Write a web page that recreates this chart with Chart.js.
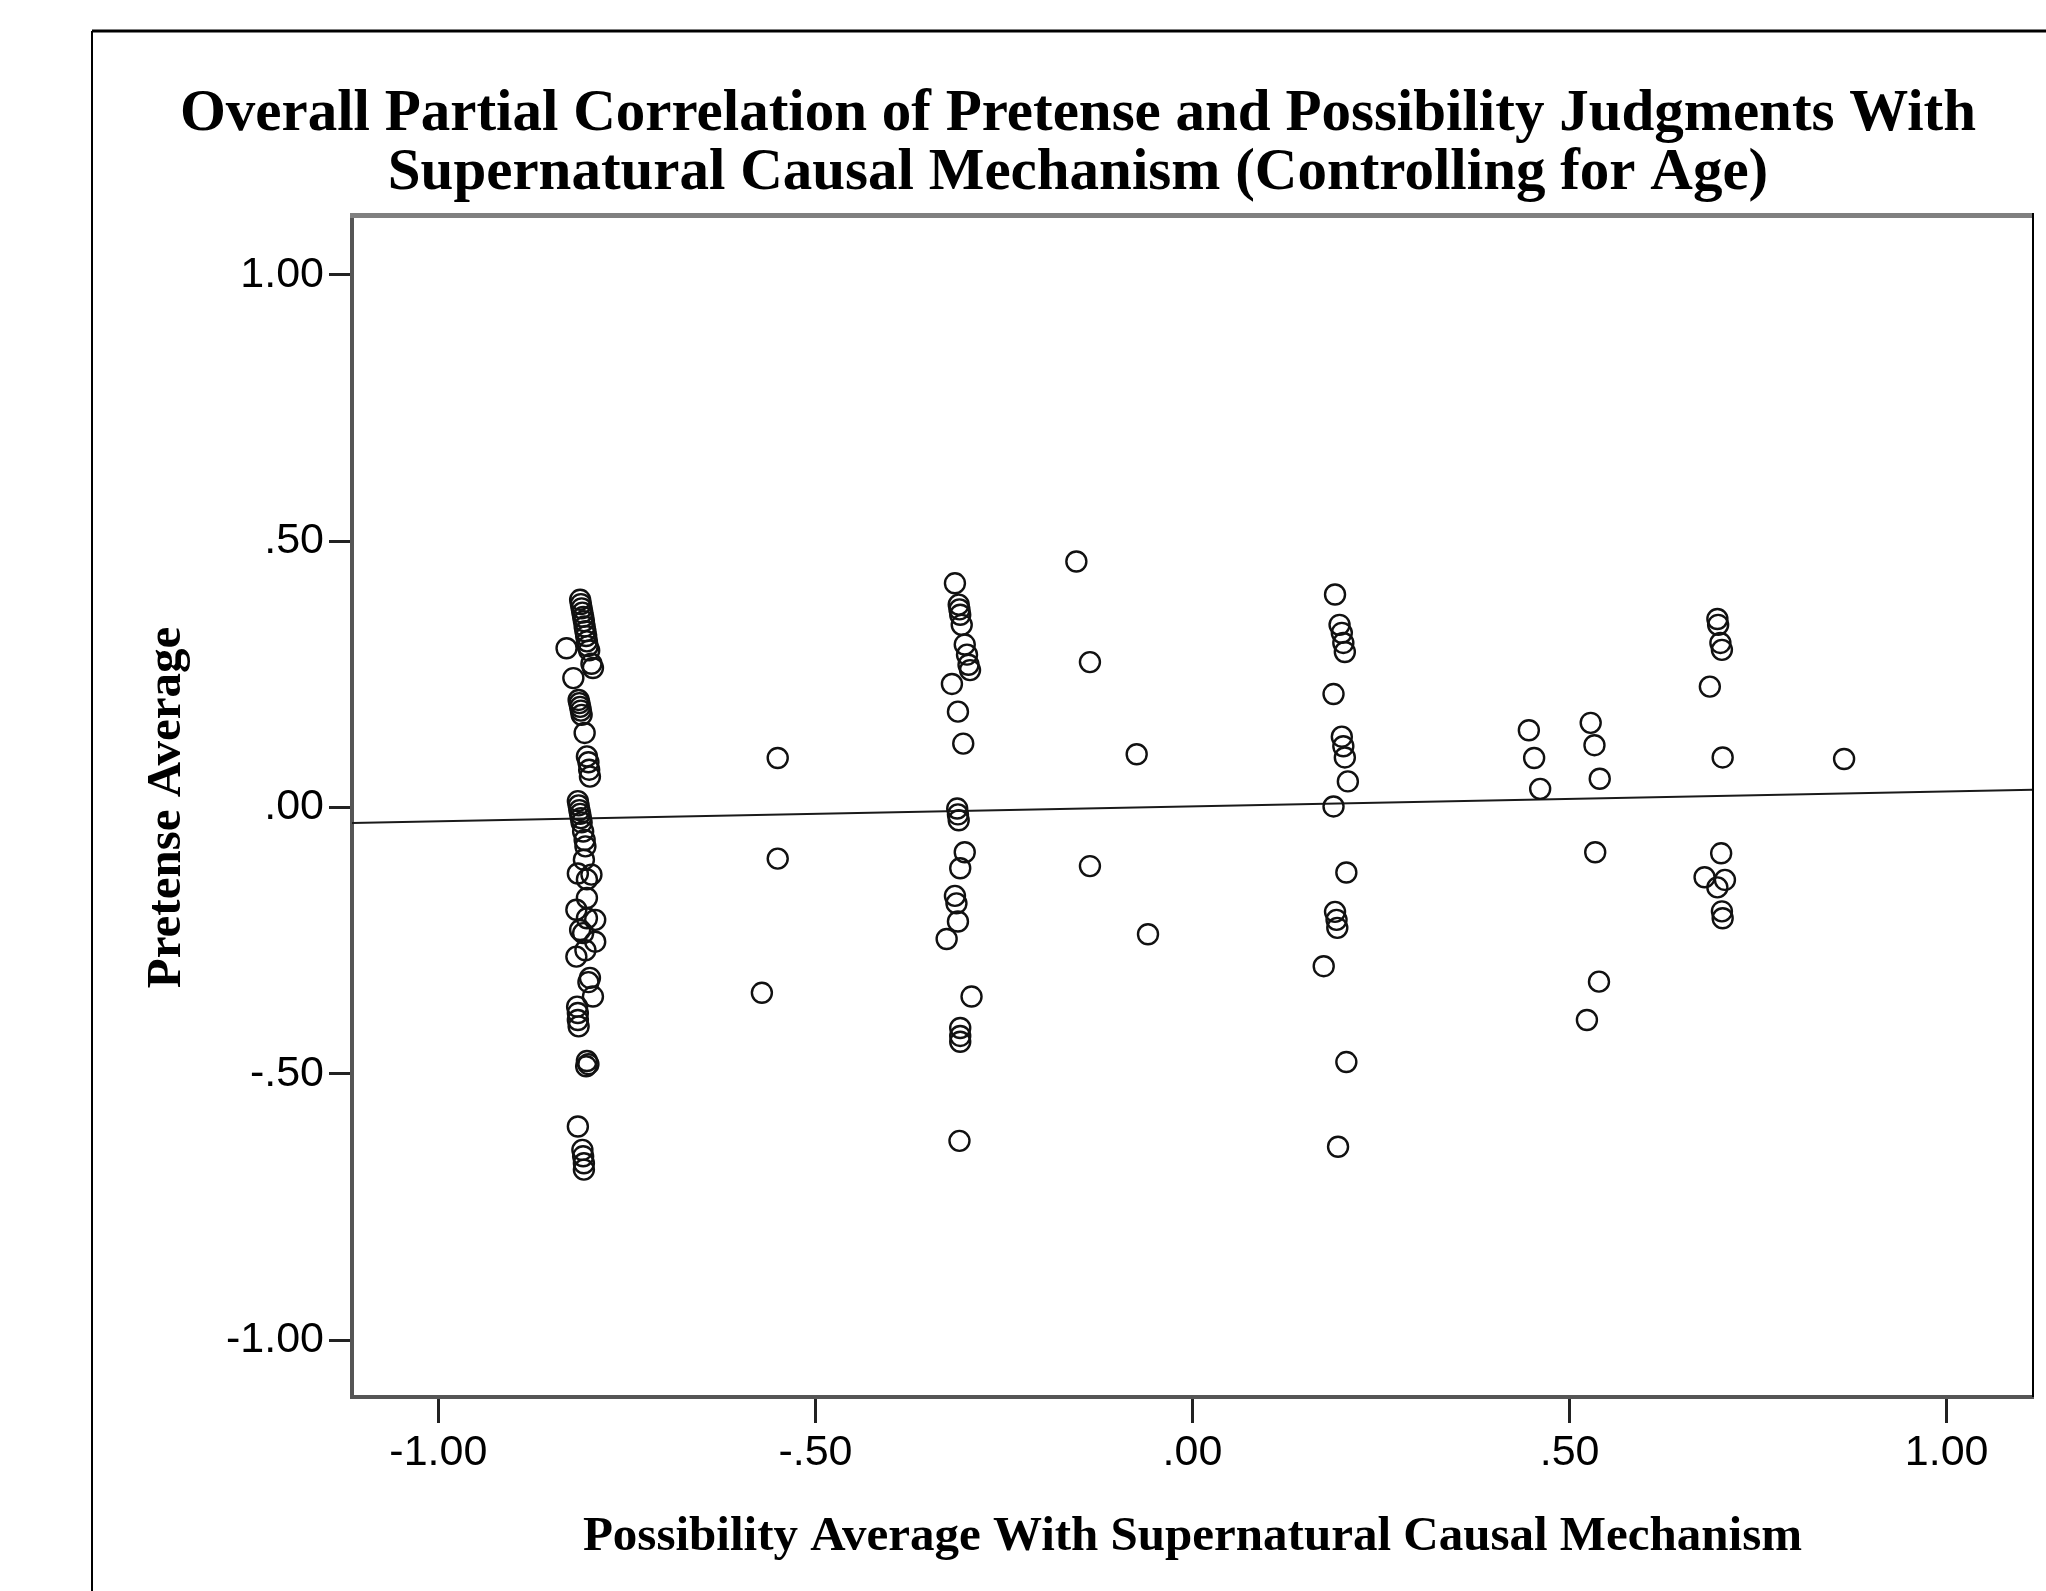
<!DOCTYPE html>
<html>
<head>
<meta charset="utf-8">
<script src="https://cdn.jsdelivr.net/npm/chart.js@4.4.1/dist/chart.umd.min.js"></script>
<style>
  body { margin: 0; background: #fff; }
  #wrap { width: 2046px; height: 1591px; }
</style>
</head>
<body>
<div id="wrap"><canvas id="partialChart" width="2046" height="1591"></canvas></div>
<script>
// residuals (controlling for age)
// x = possibility average w/ supernatural causal mechanism, y = pretense average
var possibilityAvg = [
  // group near -.80
  -0.812,-0.811,-0.810,-0.809,-0.808,-0.807,-0.806,-0.805,-0.804,-0.803,-0.802,-0.800,
  -0.830,-0.795,-0.797,-0.821,-0.814,-0.813,-0.812,-0.811,-0.810,-0.806,-0.803,-0.801,
  -0.800,-0.799,-0.815,-0.814,-0.813,-0.812,-0.811,-0.810,-0.808,-0.806,-0.805,-0.807,
  -0.815,-0.797,-0.803,-0.803,-0.817,-0.803,-0.792,-0.812,-0.808,-0.792,-0.805,-0.817,
  -0.799,-0.801,-0.795,-0.816,-0.815,-0.815,-0.814,-0.803,-0.801,-0.804,-0.815,-0.809,
  -0.808,-0.807,-0.807,
  // group near -.30
  -0.315,-0.310,-0.309,-0.308,-0.306,-0.302,-0.299,-0.297,-0.295,-0.319,-0.311,-0.304,
  -0.312,-0.311,-0.310,-0.302,-0.308,-0.315,-0.313,-0.311,-0.326,-0.293,-0.308,-0.308,
  -0.308,-0.309,
  // loose ones
  -0.550,-0.550,-0.571,-0.154,-0.136,-0.136,-0.074,-0.059,
  // group near .20
  0.189,0.195,0.198,0.200,0.202,0.187,0.198,0.200,0.202,0.206,0.187,0.204,
  0.189,0.191,0.192,0.174,0.204,0.193,
  // group near .50
  0.446,0.453,0.461,0.528,0.533,0.540,0.534,0.539,0.523,
  // group near .70
  0.696,0.697,0.700,0.702,0.686,0.703,0.701,0.679,0.706,0.696,0.702,0.703,0.864
];
var pretenseAvg = [
  0.390,0.382,0.374,0.366,0.358,0.350,0.340,0.331,0.322,0.312,0.303,0.295,
  0.299,0.262,0.270,0.243,0.202,0.196,0.189,0.182,0.174,0.140,0.096,0.085,
  0.071,0.058,0.012,0.004,-0.005,-0.012,-0.020,-0.028,-0.045,-0.061,-0.073,-0.098,
  -0.124,-0.126,-0.135,-0.170,-0.192,-0.208,-0.211,-0.230,-0.236,-0.252,-0.268,-0.280,
  -0.320,-0.328,-0.355,-0.374,-0.386,-0.399,-0.411,-0.476,-0.482,-0.486,-0.599,-0.643,
  -0.655,-0.668,-0.680,

  0.421,0.381,0.372,0.362,0.343,0.306,0.287,0.268,0.258,0.232,0.180,0.120,
  -0.002,-0.013,-0.024,-0.084,-0.114,-0.166,-0.180,-0.214,-0.247,-0.355,-0.414,-0.429,
  -0.440,-0.626,

  0.093,-0.096,-0.348,0.462,0.273,-0.110,0.100,-0.238,

  0.400,0.343,0.328,0.309,0.292,0.213,0.133,0.115,0.094,0.049,0.002,-0.122,
  -0.196,-0.211,-0.226,-0.298,-0.478,-0.637,

  0.145,0.093,0.035,0.159,0.117,0.054,-0.084,-0.327,-0.399,

  0.354,0.343,0.309,0.296,0.227,0.094,-0.086,-0.131,-0.136,-0.150,-0.195,-0.208,0.091
];

// fit line
var fitIntercept = 0.002;
var fitSlope = 0.028;

var tickValues = [-1, -0.5, 0, 0.5, 1];
var xTickLabels = ["-1.00", "-.50", ".00", ".50", "1.00"];
var yTickLabels = ["-1.00", "-.50", ".00", ".50", "1.00"];

var xMin = -1.1145, xMax = 1.1145;
var yMin = -1.107, yMax = 1.107;

var titleLines = [
  "Overall Partial Correlation of Pretense and Possibility Judgments With",
  "Supernatural Causal Mechanism (Controlling for Age)"
];

var points = [];
for (var i = 0; i < possibilityAvg.length; i++) {
  points.push({ x: possibilityAvg[i], y: pretenseAvg[i] });
}
var fitPoints = [
  { x: xMin, y: fitIntercept + fitSlope * xMin },
  { x: xMax, y: fitIntercept + fitSlope * xMax }
];

var framePlugin = {
  id: 'frame',
  beforeDraw: function(chart) {
    var ctx = chart.ctx;
    ctx.save();
    ctx.fillStyle = '#fff';
    ctx.fillRect(0, 0, chart.width, chart.height);
    ctx.strokeStyle = '#000';
    ctx.lineWidth = 3;
    ctx.beginPath();
    ctx.moveTo(92, 31);
    ctx.lineTo(chart.width, 31);
    ctx.stroke();
    ctx.lineWidth = 2;
    ctx.beginPath();
    ctx.moveTo(92, 31);
    ctx.lineTo(92, chart.height);
    ctx.stroke();
    ctx.restore();
  },
  afterDraw: function(chart) {
    var a = chart.chartArea;
    var ctx = chart.ctx;
    ctx.save();
    ctx.strokeStyle = '#808080';
    ctx.lineWidth = 5;
    ctx.beginPath();
    ctx.moveTo(a.left - 2, a.top - 2.5);
    ctx.lineTo(a.right + 1, a.top - 2.5);
    ctx.stroke();
    ctx.strokeStyle = '#000';
    ctx.lineWidth = 2;
    ctx.beginPath();
    ctx.moveTo(a.right, a.top - 5);
    ctx.lineTo(a.right, a.bottom);
    ctx.stroke();
    ctx.restore();
  }
};

var tickFont = { family: "'Liberation Sans', Arial, sans-serif", size: 43 };
var axisTitleFont = { family: "'Liberation Serif', 'Times New Roman', serif", size: 49, weight: 'bold', lineHeight: 1.2 };

var chart = new Chart(document.getElementById('partialChart'), {
  type: 'scatter',
  data: {
    datasets: [{
      label: 'Pretense Average',
      data: points,
      pointStyle: 'circle',
      pointRadius: 10,
      pointBorderWidth: 2.4,
      pointBorderColor: '#111',
      pointBackgroundColor: 'rgba(0,0,0,0)',
      showLine: false
    }, {
      type: 'line',
      label: 'Fit',
      data: fitPoints,
      borderColor: '#1a1a1a',
      borderWidth: 2,
      pointRadius: 0,
      fill: false
    }]
  },
  options: {
    responsive: false,
    devicePixelRatio: 1,
    animation: false,
    events: [],
    layout: { padding: { left: 123, right: 13, top: 0, bottom: 0 } },
    plugins: {
      legend: { display: false },
      tooltip: { enabled: false },
      title: {
        display: true,
        text: titleLines,
        color: '#000',
        font: { family: "'Liberation Serif', 'Times New Roman', serif", size: 59, weight: 'bold', lineHeight: 1.0 },
        padding: { top: 85.5, bottom: 14.5 }
      }
    },
    scales: {
      x: {
        type: 'linear',
        min: xMin,
        max: xMax,
        afterFit: function(scale) { scale.height = 194; },
        afterBuildTicks: function(scale) {
          scale.ticks = tickValues.map(function(v) { return { value: v }; });
        },
        ticks: {
          callback: function(value, index) { return xTickLabels[index]; },
          color: '#000',
          font: tickFont,
          padding: 4,
          maxRotation: 0
        },
        grid: { drawOnChartArea: false, drawTicks: true, tickLength: 26, tickColor: '#222', tickWidth: 3 },
        border: { display: true, color: '#555', width: 4 },
        title: {
          display: true,
          text: 'Possibility Average With Supernatural Causal Mechanism',
          color: '#000',
          font: axisTitleFont,
          padding: { top: 0, bottom: 24.6 }
        }
      },
      y: {
        type: 'linear',
        min: yMin,
        max: yMax,
        afterFit: function(scale) { scale.width = 229; },
        afterBuildTicks: function(scale) {
          scale.ticks = tickValues.map(function(v) { return { value: v }; });
        },
        ticks: {
          callback: function(value, index) { return yTickLabels[index]; },
          color: '#000',
          font: tickFont,
          padding: 5
        },
        grid: { drawOnChartArea: false, drawTicks: true, tickLength: 23, tickColor: '#222', tickWidth: 3 },
        border: { display: true, color: '#555', width: 4 },
        title: {
          display: true,
          text: 'Pretense Average',
          color: '#000',
          font: axisTitleFont,
          padding: { top: 14.6, bottom: 0 }
        }
      }
    }
  },
  plugins: [framePlugin]
});
</script>
</body>
</html>
